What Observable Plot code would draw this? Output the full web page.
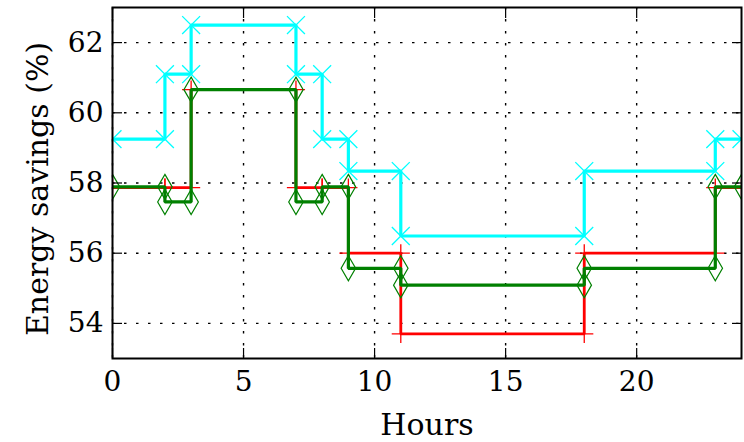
<!DOCTYPE html>
<html>
<head>
<meta charset="utf-8">
<script src="https://cdn.jsdelivr.net/npm/d3@7"></script>
<script src="https://cdn.jsdelivr.net/npm/@observablehq/plot@0.6"></script>
<style>
  html, body { margin: 0; padding: 0; background: #fff; }
</style>
</head>
<body>
<div id="chart"></div>
<script>
// Hour boundaries of the step intervals
const hours = [0, 2, 3, 7, 8, 9, 11, 18, 23, 24];
// Value on each interval [hours[i], hours[i+1])
const redSavings   = [57.87, 57.87, 60.66, 57.87, 57.87, 56.00, 53.70, 56.00, 57.87];
const cyanSavings  = [59.25, 61.10, 62.50, 61.10, 59.25, 58.34, 56.49, 58.34, 59.25];
const greenSavings = [57.89, 57.46, 60.66, 57.46, 57.89, 55.57, 55.09, 55.57, 57.89];
const xTicks = [0, 5, 10, 15, 20];
const yTicks = [54, 56, 58, 60, 62];

function steps(values) {
  const pts = [];
  values.forEach((v, i) => {
    pts.push({hour: hours[i], value: v});
    pts.push({hour: hours[i + 1], value: v});
  });
  return pts;
}
const red = steps(redSavings);
const cyan = steps(cyanSavings);
const green = steps(greenSavings);

const font = "DejaVu Serif";

const series = [
  {data: red, color: "#ff0000", symbol: "plus", r: 5.9, sw: 1.3, lw: 2.8},
  {data: cyan, color: "#00ffff", symbol: "times", r: 8.2, sw: 1.3, lw: 3.2},
  {data: green, color: "#008000", symbol: "diamond", r: 7.6, sw: 1.2, lw: 3.2}
];

const marks = [
  Plot.gridX(xTicks, {stroke: "black", strokeOpacity: 1, strokeWidth: 1.4, strokeDasharray: "2.5,9.5"}),
  Plot.gridY(yTicks, {stroke: "black", strokeOpacity: 1, strokeWidth: 1.4, strokeDasharray: "2.5,9.5"})
];
for (const s of series) {
  marks.push(Plot.line(s.data, {x: "hour", y: "value", stroke: s.color, strokeWidth: s.lw, clip: true, strokeLinejoin: "miter"}));
  marks.push(Plot.dot(s.data, {x: "hour", y: "value", symbol: () => s.symbol, r: s.r, stroke: s.color, fill: "none", strokeWidth: s.sw, clip: true}));
}
marks.push(
  Plot.axisX(xTicks, {anchor: "bottom", tickSize: -10, tickPadding: 23, label: null, fontSize: 28, stroke: "black", strokeWidth: 1.2}),
  Plot.axisX(xTicks, {anchor: "top", tickSize: -10, label: null, tickFormat: () => "", strokeWidth: 1.2}),
  Plot.axisY(yTicks, {anchor: "left", tickSize: -10, tickPadding: 19, label: null, fontSize: 28, strokeWidth: 1.2}),
  Plot.axisY(yTicks, {anchor: "right", tickSize: -10, label: null, tickFormat: () => "", strokeWidth: 1.2}),
  Plot.frame({stroke: "black", strokeWidth: 2}),
  Plot.text(["Hours"], {frameAnchor: "bottom", text: d => d, dy: 67, fontSize: 30, lineAnchor: "middle", textAnchor: "middle", fill: "black"}),
  Plot.text(["Energy savings (%)"], {frameAnchor: "left", text: d => d, rotate: -90, dx: -74, dy: 6, fontSize: 30, lineAnchor: "middle", textAnchor: "middle", fill: "black"})
);

const chart = Plot.plot({
  width: 744,
  height: 442,
  marginLeft: 112,
  marginRight: 3,
  marginTop: 7,
  marginBottom: 84,
  style: {fontFamily: font, fontSize: "28px", color: "black", background: "white", overflow: "visible"},
  x: {domain: [0, 24]},
  y: {domain: [53, 63]},
  marks
});
document.getElementById("chart").appendChild(chart);
</script>
</body>
</html>
